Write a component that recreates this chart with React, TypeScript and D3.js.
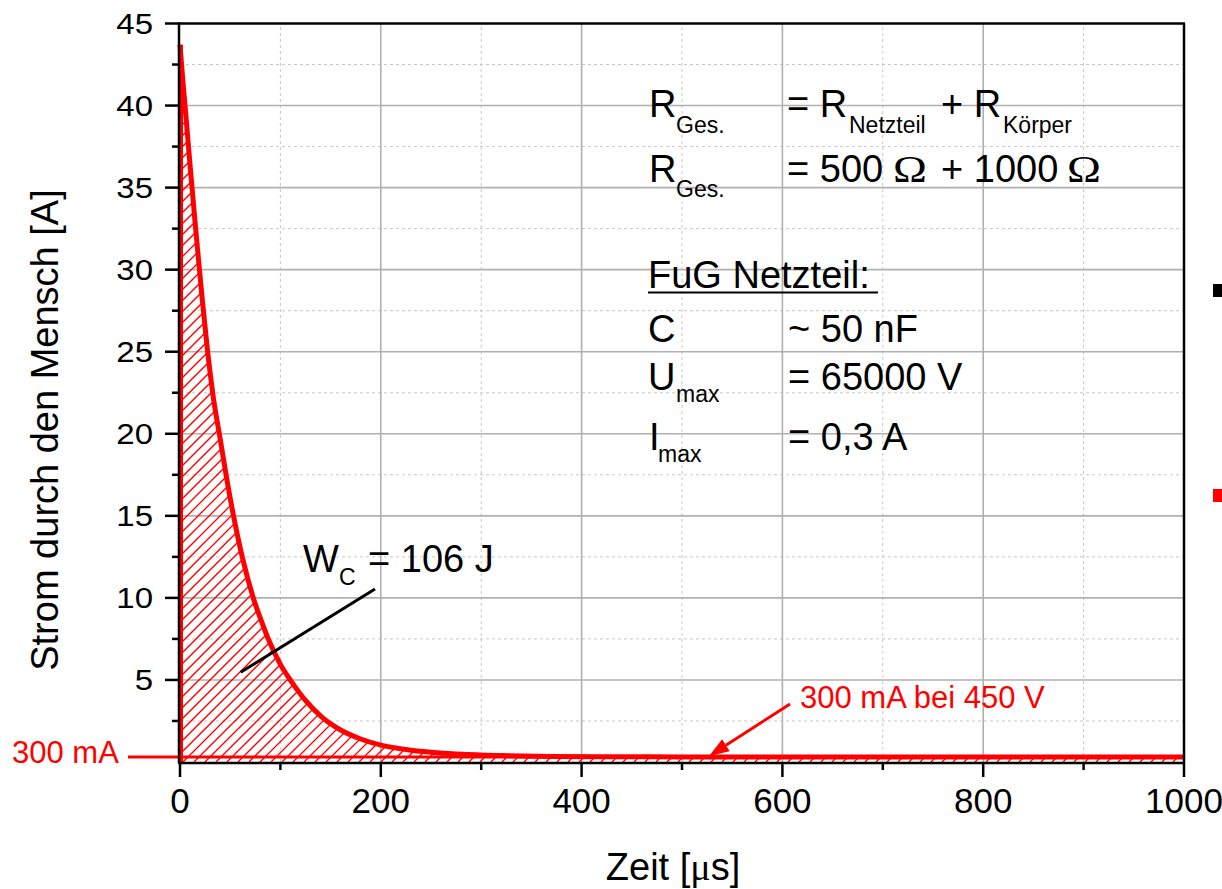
import React from "react";
import * as d3 from "d3";

// ---- data ----
const timeUs = [0, 3, 6, 9, 12, 15, 18, 22, 27, 33, 40, 47, 53, 62, 73, 81, 90, 100, 111, 125, 141, 160, 180, 200, 225, 250, 280, 320, 370, 430, 500, 600, 800, 1000];
const currentA = [43.7, 41.4, 39.3, 37.1, 35.0, 32.9, 30.9, 28.3, 25.3, 22.3, 19.7, 17.1, 15.1, 12.5, 10.0, 8.6, 7.2, 5.95, 4.9, 3.75, 2.75, 1.95, 1.4, 1.03, 0.76, 0.59, 0.47, 0.39, 0.34, 0.32, 0.31, 0.30, 0.30, 0.30];
const xMajorTicks = [0, 200, 400, 600, 800, 1000];
const xMinorTicks = [100, 300, 500, 700, 900];
const yMajorTicks = [5, 10, 15, 20, 25, 30, 35, 40, 45];
const yMinorTicks = [2.5, 7.5, 12.5, 17.5, 22.5, 27.5, 32.5, 37.5, 42.5];
const limitCurrentA = 0.3;
const limitLabel = "300 mA";
const arrowLabel = "300 mA bei 450 V";
const arrowTargetUs = 527;
const xTitle = "Zeit [";
const yTitle = "Strom durch den Mensch [A]";

const FONT = "'Liberation Sans', Arial, Helvetica, sans-serif";
const SERIF = "'Liberation Serif', 'Times New Roman', serif";
const RED = "#ff0000";

export default function App() {
  const W = 1222, H = 889;
  const x = d3.scaleLinear().domain([0, 1000]).range([180, 1184]);
  const y = d3.scaleLinear().domain([0, 45]).range([762, 23.5]);
  const pts = timeUs.map((t, i) => [t, currentA[i]] as [number, number]);
  const line = d3.line<[number, number]>().x(d => x(d[0])).y(d => y(d[1])).curve(d3.curveMonotoneX);
  const area = d3.area<[number, number]>().x(d => x(d[0])).y0(y(0)).y1(d => y(d[1])).curve(d3.curveMonotoneX);

  // hatch lines (45°, "/" direction) clipped to the area
  const hatchStep = 11;
  const hatchOffsets = d3.range(x(0) - 800, x(1000) + 10, hatchStep);

  // arrow geometry
  const tipX = x(arrowTargetUs), tipY = y(limitCurrentA) - 1;
  const tailX = 790, tailY = 704;
  const ang = Math.atan2(tipY - tailY, tipX - tailX);
  const hl = 20, hw = 7;
  const bx = tipX - hl * Math.cos(ang), by = tipY - hl * Math.sin(ang);
  const head = `M${tipX},${tipY} L${bx + hw * Math.sin(ang)},${by - hw * Math.cos(ang)} L${bx - hw * Math.sin(ang)},${by + hw * Math.cos(ang)} Z`;

  const big = 38, sub = 23;

  return (
    <svg width={W} height={H} style={{ position: "absolute", left: 0, top: 0, background: "#fff" }} fontFamily={FONT}>
      <defs>
        <clipPath id="areaClip">
          <path d={area(pts) ?? ""} />
        </clipPath>
      </defs>
      <rect x={0} y={0} width={W} height={H} fill="#fff" />
      {/* grid */}
      {xMinorTicks.map(t => (
        <line key={"xm" + t} x1={x(t)} x2={x(t)} y1={y(0)} y2={y(45)} stroke="#c8c8c8" strokeWidth={1} strokeDasharray="3,3" />
      ))}
      {yMinorTicks.map(t => (
        <line key={"ym" + t} x1={x(0)} x2={x(1000)} y1={y(t)} y2={y(t)} stroke="#c8c8c8" strokeWidth={1} strokeDasharray="3,3" />
      ))}
      {xMajorTicks.slice(1, -1).map(t => (
        <line key={"xg" + t} x1={x(t)} x2={x(t)} y1={y(0)} y2={y(45)} stroke="#b0b0b0" strokeWidth={1.6} />
      ))}
      {yMajorTicks.slice(0, -1).map(t => (
        <line key={"yg" + t} x1={x(0)} x2={x(1000)} y1={y(t)} y2={y(t)} stroke="#b0b0b0" strokeWidth={1.6} />
      ))}

      {/* annotation text block */}
      <g fontSize={big} fill="#000">
        <text x={649} y={117}>R</text>
        <text x={676} y={133} fontSize={sub}>Ges.</text>
        <text x={787} y={117}>= R</text>
        <text x={849} y={133} fontSize={sub}>Netzteil</text>
        <text x={941} y={117}>+ R</text>
        <text x={1003} y={133} fontSize={sub}>Körper</text>

        <text x={649} y={182}>R</text>
        <text x={676} y={197} fontSize={sub}>Ges.</text>
        <text x={787} y={182}>= 500</text>
        <g transform="translate(893,182) scale(1.2,1)">
          <text x={0} y={0} fontFamily={SERIF}>Ω</text>
        </g>
        <text x={941} y={182}>+ 1000</text>
        <g transform="translate(1067,182) scale(1.2,1)">
          <text x={0} y={0} fontFamily={SERIF}>Ω</text>
        </g>

        <text x={648} y={288}>FuG Netzteil:</text>
        <line x1={648} x2={878} y1={292.5} y2={292.5} stroke="#000" strokeWidth={2} />
        <text x={648} y={342}>C</text>
        <text x={788} y={342}>~ 50 nF</text>
        <text x={648} y={390}>U</text>
        <text x={676} y={402} fontSize={sub}>max</text>
        <text x={788} y={390}>= 65000 V</text>
        <text x={649} y={450}>I</text>
        <text x={658} y={462} fontSize={sub}>max</text>
        <text x={788} y={450}>= 0,3 A</text>

        <text x={303} y={572}>W</text>
        <text x={339} y={585} fontSize={sub}>C</text>
        <text x={368} y={572}>= 106 J</text>
      </g>

      {/* hatched area */}
      <g clipPath="url(#areaClip)">
        {hatchOffsets.map(o => (
          <line key={"h" + o} x1={o} y1={y(0)} x2={o + 800} y2={y(0) - 800} stroke={RED} strokeWidth={1.3} />
        ))}
      </g>
      <line x1={128} x2={x(1000)} y1={y(limitCurrentA)} y2={y(limitCurrentA)} stroke={RED} strokeWidth={3} />
      <line x1={x(0) + 1.5} x2={x(0) + 1.5} y1={y(0)} y2={y(currentA[0])} stroke={RED} strokeWidth={3} />
      <path d={line(pts) ?? ""} fill="none" stroke={RED} strokeWidth={5} strokeLinejoin="round" />

      {/* W_C pointer */}
      <line x1={240.7} y1={672.3} x2={375} y2={589} stroke="#000" strokeWidth={3} />

      {/* arrow */}
      <line x1={tailX} y1={tailY} x2={bx} y2={by} stroke={RED} strokeWidth={3} />
      <path d={head} fill={RED} />
      <text x={800} y={708} fontSize={31} fill={RED}>{arrowLabel}</text>
      <text x={12} y={763} fontSize={31} fill={RED}>{limitLabel}</text>

      {/* frame */}
      <line x1={x(0) - 1} x2={x(0) - 1} y1={y(45)} y2={y(0) + 1} stroke="#000" strokeWidth={2.5} />
      <line x1={x(1000)} x2={x(1000)} y1={y(45)} y2={y(0)} stroke="#000" strokeWidth={2.5} />
      <line x1={x(0) - 2} x2={x(1000) + 1} y1={y(45)} y2={y(45)} stroke="#000" strokeWidth={2.5} />
      <line x1={x(0) - 2} x2={x(1000) + 1} y1={y(0) + 1} y2={y(0) + 1} stroke="#000" strokeWidth={2.5} />

      {/* ticks */}
      {xMajorTicks.map(t => (
        <line key={"xt" + t} x1={x(t)} x2={x(t)} y1={y(0)} y2={y(0) + 15} stroke="#000" strokeWidth={2.5} />
      ))}
      {xMinorTicks.map(t => (
        <line key={"xmt" + t} x1={x(t)} x2={x(t)} y1={y(0)} y2={y(0) + 8} stroke="#000" strokeWidth={2.5} />
      ))}
      {yMajorTicks.map(t => (
        <line key={"yt" + t} x1={x(0) - 15} x2={x(0)} y1={y(t)} y2={y(t)} stroke="#000" strokeWidth={2.5} />
      ))}
      {yMinorTicks.map(t => (
        <line key={"ymt" + t} x1={x(0) - 8} x2={x(0)} y1={y(t)} y2={y(t)} stroke="#000" strokeWidth={2.5} />
      ))}

      {/* tick labels */}
      {xMajorTicks.map(t => (
        <text key={"xl" + t} x={x(t)} y={813} fontSize={35} textAnchor="middle" fill="#000">{t}</text>
      ))}
      {yMajorTicks.map(t => (
        <g key={"yl" + t} transform={`translate(153,${y(t) + 10.5}) scale(1.1,1)`}>
          <text x={0} y={0} fontSize={30} textAnchor="end" fill="#000">{t}</text>
        </g>
      ))}

      {/* axis titles */}
      <text x={673} y={880} fontSize={38} textAnchor="middle" fill="#000">
        {xTitle}<tspan fontFamily={SERIF}>μ</tspan>s]
      </text>
      <text transform={`translate(58,430) rotate(-90)`} fontSize={38} textAnchor="middle" fill="#000">{yTitle}</text>

      {/* cut-off legend markers */}
      <rect x={1213} y={284} width={14} height={13} fill="#000" />
      <rect x={1213} y={489} width={14} height={13} fill={RED} />
    </svg>
  );
}
